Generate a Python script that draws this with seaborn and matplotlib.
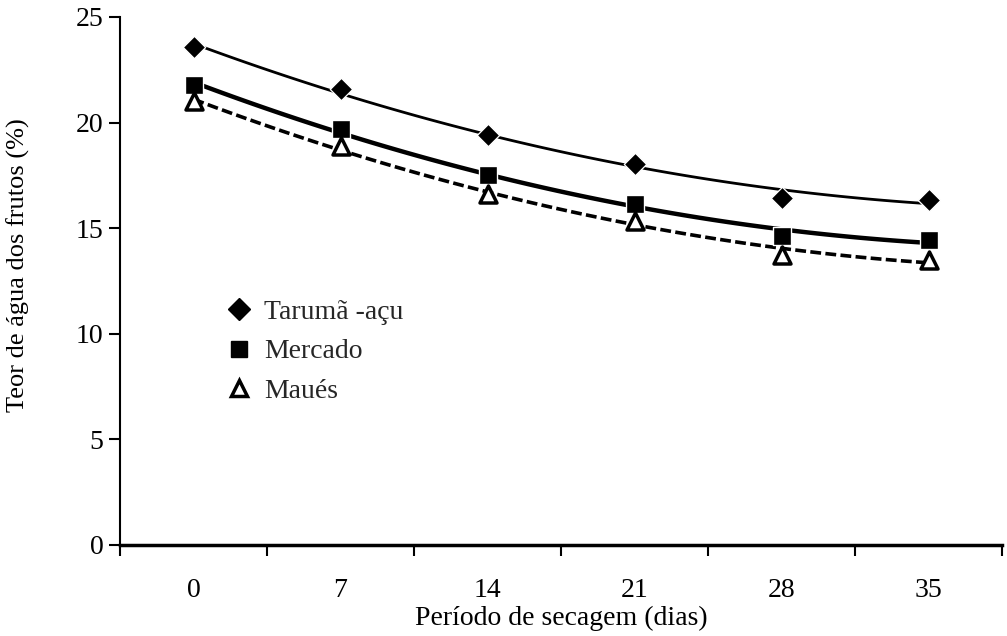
import numpy as np
import pandas as pd
import matplotlib
matplotlib.use("Agg")
import matplotlib.pyplot as plt
import seaborn as sns
from matplotlib.lines import Line2D

days = [0, 7, 14, 21, 28, 35]
taruma = [23.6, 21.6, 19.4, 18.05, 16.45, 16.35]
mercado = [21.8, 19.7, 17.5, 16.15, 14.65, 14.45]
maues = [21.0, 18.9, 16.6, 15.35, 13.75, 13.5]
series_names = ["Tarumã -açu", "Mercado", "Maués"]
y_ticks = [0, 5, 10, 15, 20, 25]

sns.set_theme(style="white")
plt.rcParams['font.family'] = ['Liberation Serif', 'DejaVu Serif']

fig = plt.figure(figsize=(10.07, 6.36), dpi=100)
ax = fig.add_axes([120/1007, 91/636, (1002-120)/1007, (545-17)/636])

df = pd.DataFrame({"dias": days, "Tarumã": taruma, "Mercado": mercado, "Maués": maues})

styles = [
    ("Tarumã", dict(marker="D", s=130, color="black"), dict(color="black", lw=2.0, ls="-")),
    ("Mercado", dict(marker="s", s=150, color="black"), dict(color="black", lw=3.2, ls="-")),
    ("Maués", dict(marker="^", s=150, facecolors="white", edgecolors="black", linewidths=2.5), dict(color="black", lw=2.6, ls=(0, (3, 1.2)))),
]
for col, mk, ln in styles:
    sns.regplot(data=df, x="dias", y=col, order=2, ci=None, scatter=False,
                line_kws=ln, ax=ax, truncate=True)
for col, mk, ln in styles:
    sns.scatterplot(data=df, x="dias", y=col, ax=ax, zorder=5, legend=False, **mk)

ax.set_xlim(-3.5, 38.5)
ax.set_ylim(0, 25)
ax.set_xticks(days)
ax.set_xticklabels([str(d) for d in days])
ax.set_xticks([-3.5 + 7 * k for k in range(7)], minor=True)
ax.tick_params(axis="both", which="both", bottom=True, left=True)
ax.tick_params(axis="x", which="major", length=0, pad=24, labelsize=20)
ax.tick_params(axis="x", which="minor", length=8, width=1.5, direction="out", color="black")
ax.set_yticks(y_ticks)
ax.tick_params(axis="y", which="major", length=8, width=1.5, direction="out", color="black", labelsize=20, pad=4)
for t in ax.get_xticklabels() + ax.get_yticklabels():
    t.set_color("black")

for s in ["top", "right"]:
    ax.spines[s].set_visible(False)
ax.spines["left"].set_color("black")
ax.spines["left"].set_linewidth(1.5)
ax.spines["bottom"].set_color("black")
ax.spines["bottom"].set_linewidth(2.5)

ax.set_xlabel("Período de secagem (dias)", fontsize=20, color="black", labelpad=2)
ax.set_ylabel("Teor de água dos frutos (%)", fontsize=19, color="black")
ax.yaxis.set_label_coords(-0.102, 0.53)

handles = [
    Line2D([], [], marker="D", color="black", ls="none", markersize=11),
    Line2D([], [], marker="s", color="black", ls="none", markersize=12),
    Line2D([], [], marker="^", markerfacecolor="white", markeredgecolor="black", markeredgewidth=2.5, ls="none", markersize=11),
]
ax.legend(handles, series_names, loc="upper left", bbox_to_anchor=(0.088, 0.512),
          frameon=False, fontsize=20, handletextpad=0.3, labelspacing=0.5,
          handlelength=1.2)

fig.savefig("out.png", dpi=100)
